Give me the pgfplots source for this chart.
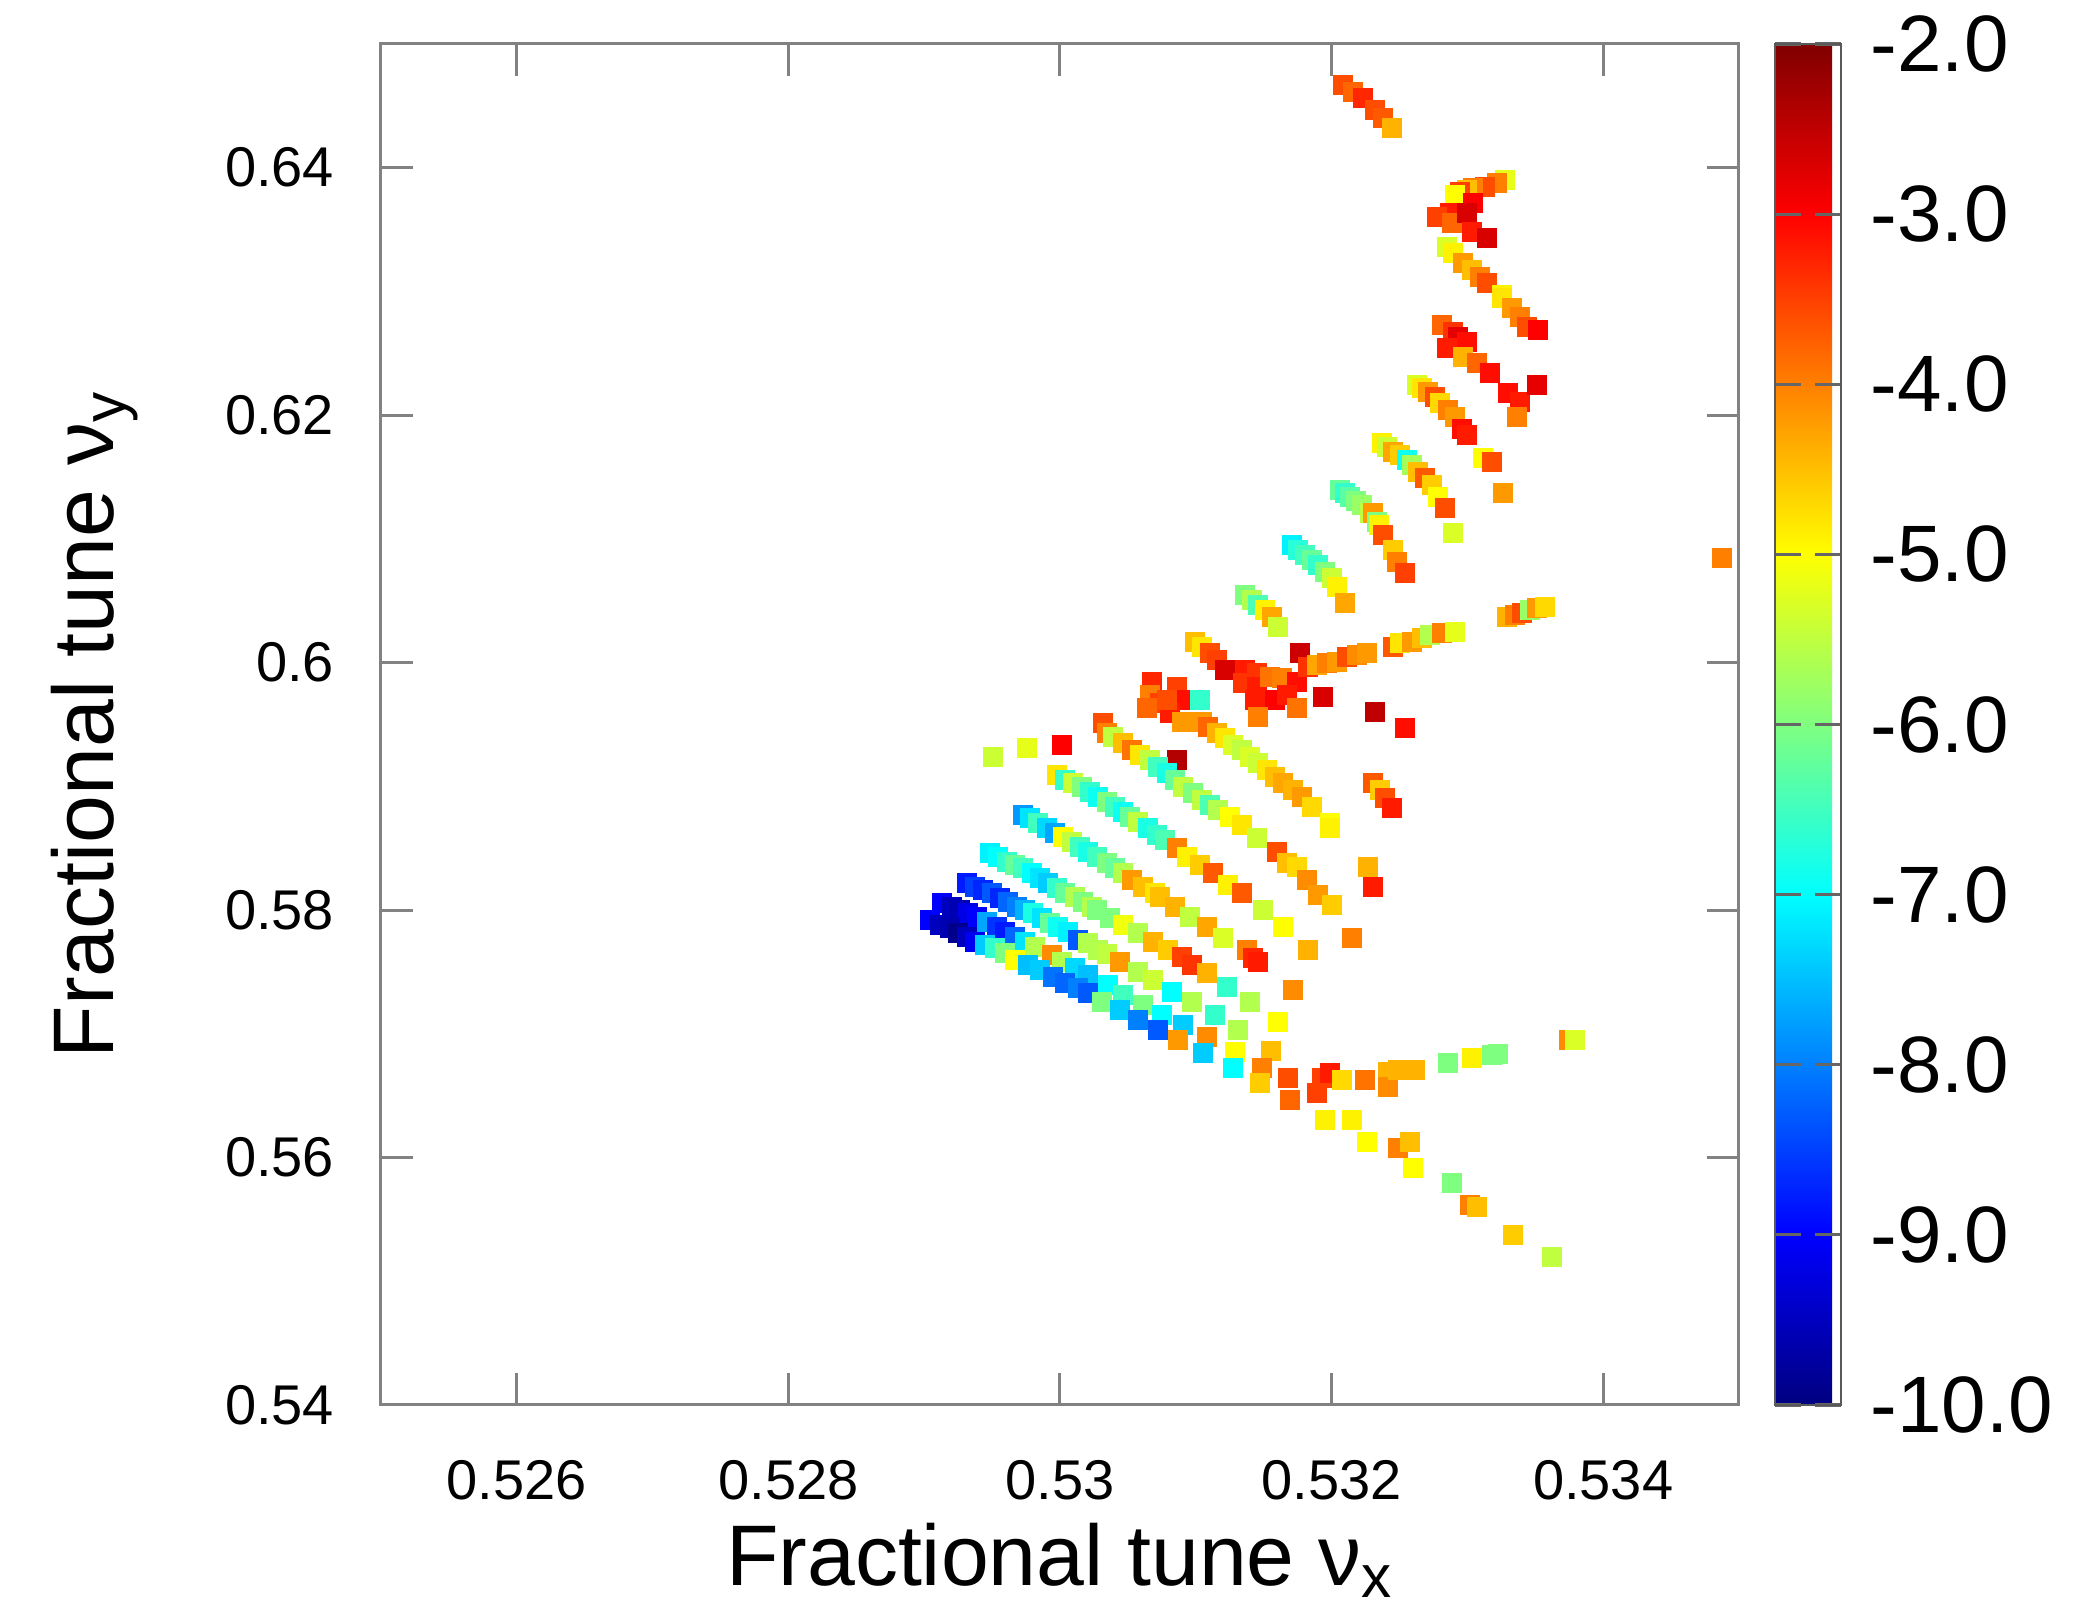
\documentclass[border=0pt]{standalone}
\usepackage{pgfplots}
\pgfplotsset{compat=1.18}
\usepackage{fontspec}
\setmainfont{Liberation Sans}
\definecolor{axisgray}{RGB}{130,130,130}
\begin{document}
\begin{tikzpicture}
\path[use as bounding box] (-95.25pt,-52pt) rectangle (424.75pt,351.25pt);
\begin{axis}[
  at={(0,0)}, anchor=south west,
  scale only axis, width=339.5pt, height=340.25pt,
  xmin=0.525, xmax=0.535, ymin=0.54, ymax=0.65,
  xtick={0.526,0.528,0.530,0.532,0.534},
  xticklabels={0.526,0.528,0.53,0.532,0.534},
  ytick={0.54,0.56,0.58,0.60,0.62,0.64},
  yticklabels={0.54,0.56,0.58,0.6,0.62,0.64},
  tick align=inside, major tick length=8pt,
  axis line style={draw=axisgray, line width=0.75pt},
  every tick/.style={draw=axisgray, line width=0.75pt},
  tick label style={font=\fontsize{14}{16}\selectfont},
  xticklabel style={yshift=-10.3pt},
  yticklabel style={xshift=-8.2pt},
  xlabel={Fractional tune ν\textsubscript{x}},
  ylabel={Fractional tune ν\textsubscript{y}},
  xlabel style={at={(axis description cs:0.5,-0.1323)}, anchor=base, font=\fontsize{21.5}{24}\selectfont},
  ylabel style={at={(axis description cs:-0.1973,0.5)}, anchor=base, font=\fontsize{21.5}{24}\selectfont},
  colormap/jet,
  point meta min=-10, point meta max=-2,
  colorbar,
  colorbar style={
    at={(parent axis.north east)}, anchor=north west, xshift=0.5pt,
    scale only axis, width=16.5pt, height=340.25pt,
    ytick={-10,-9,-8,-7,-6,-5,-4,-3,-2},
    yticklabels={-10.0,-9.0,-8.0,-7.0,-6.0,-5.0,-4.0,-3.0,-2.0},
    ytick pos=both, yticklabel pos=right,
    tick align=inside, major tick length=6.5pt,
    axis line style={draw=black!65, line width=0.6pt},
    every tick/.style={draw=black!60, line width=0.8pt},
    yticklabel style={font=\fontsize{20}{22}\selectfont, xshift=3.9pt},
  },
]
\addplot[scatter, only marks, mark=square*, mark size=2.3pt,
  scatter src=explicit,
  scatter/use mapped color={draw=mapped color, fill=mapped color}]
  table[x=x, y=y, meta=c] {
x y c
0.532084 0.64669 -3.6
0.532158 0.64612 -3.8
0.532232 0.64564 -3.3
0.532320 0.64467 -3.6
0.532379 0.64402 -3.7
0.532445 0.64321 -4.4
0.533277 0.63901 -5.2
0.533216 0.63874 -4.0
0.533130 0.63847 -3.6
0.533043 0.63834 -4.0
0.532995 0.63820 -4.5
0.532946 0.63806 -3.5
0.532909 0.63780 -5.0
0.533043 0.63713 -3.0
0.532872 0.63632 -3.2
0.532774 0.63604 -3.5
0.532890 0.63553 -3.8
0.532995 0.63632 -2.7
0.533031 0.63483 -3.2
0.533142 0.63430 -2.7
0.532847 0.63362 -5.3
0.532896 0.63308 -4.9
0.532970 0.63228 -4.2
0.533031 0.63174 -4.5
0.533093 0.63119 -4.0
0.533142 0.63066 -3.6
0.533252 0.62971 -4.9
0.533252 0.62945 -4.8
0.533326 0.62864 -4.2
0.533387 0.62796 -4.0
0.533436 0.62715 -3.6
0.533522 0.62689 -3.0
0.532810 0.62729 -3.8
0.532896 0.62675 -3.4
0.532933 0.62634 -2.8
0.532995 0.62594 -3.1
0.532848 0.62541 -3.2
0.532970 0.62473 -4.4
0.533068 0.62419 -3.8
0.533166 0.62339 -3.1
0.533301 0.62177 -3.1
0.533387 0.62109 -3.2
0.533510 0.62244 -2.8
0.533362 0.61988 -4.0
0.532626 0.62244 -5.3
0.532663 0.62217 -4.8
0.532712 0.62190 -4.2
0.532761 0.62150 -3.6
0.532798 0.62096 -4.7
0.532859 0.62042 -4.0
0.532909 0.61988 -4.2
0.532960 0.61890 -3.1
0.532995 0.61840 -3.2
0.533117 0.61652 -5.0
0.533179 0.61624 -3.6
0.533265 0.61369 -4.2
0.532369 0.61773 -4.9
0.532405 0.61746 -5.4
0.532454 0.61705 -4.3
0.532504 0.61678 -4.6
0.532553 0.61638 -6.9
0.532590 0.61597 -5.7
0.532639 0.61543 -4.5
0.532688 0.61490 -3.7
0.532737 0.61436 -4.6
0.532786 0.61341 -5.0
0.532835 0.61247 -3.6
0.532896 0.61045 -5.3
0.532062 0.61395 -6.2
0.532100 0.61370 -6.6
0.532136 0.61341 -6.3
0.532180 0.61310 -6.0
0.532222 0.61274 -5.8
0.532283 0.61207 -5.5
0.532307 0.61207 -4.2
0.532332 0.61139 -6.0
0.532350 0.61110 -4.9
0.532381 0.61032 -3.6
0.532454 0.60910 -4.6
0.532479 0.60816 -4.0
0.532541 0.60722 -3.5
0.531706 0.60951 -7.1
0.531755 0.60911 -6.7
0.531804 0.60870 -6.5
0.531853 0.60830 -6.2
0.531902 0.60789 -6.6
0.531951 0.60735 -6.0
0.532000 0.60681 -5.4
0.532037 0.60614 -4.9
0.532098 0.60480 -4.3
0.531362 0.60547 -6.0
0.531412 0.60506 -5.6
0.531460 0.60466 -6.4
0.531510 0.60426 -4.9
0.531559 0.60372 -4.3
0.531608 0.60291 -5.4
0.530994 0.60169 -4.5
0.531043 0.60129 -4.8
0.531105 0.60075 -3.6
0.531154 0.60021 -3.5
0.531215 0.59941 -2.7
0.530675 0.59846 -3.3
0.530663 0.59739 -4.0
0.530736 0.59671 -3.5
0.530859 0.59806 -3.5
0.530920 0.59698 -3.1
0.530810 0.59591 -3.2
0.530896 0.59523 -4.2
0.531031 0.59698 -6.6
0.530638 0.59631 -3.8
0.530786 0.59698 -3.6
0.531362 0.59941 -3.2
0.531448 0.59914 -3.4
0.531350 0.59833 -3.4
0.531448 0.59806 -3.2
0.531546 0.59886 -3.9
0.531633 0.59873 -4.0
0.531743 0.59846 -3.1
0.531436 0.59698 -3.2
0.531583 0.59698 -3.0
0.531669 0.59739 -3.2
0.531460 0.59563 -4.0
0.531767 0.60075 -2.6
0.531743 0.59631 -3.9
0.531939 0.59725 -2.7
0.532320 0.59604 -2.5
0.531828 0.59967 -3.4
0.531890 0.59981 -4.3
0.531964 0.59995 -4.0
0.532037 0.60008 -4.2
0.532111 0.60048 -3.6
0.532185 0.60062 -4.1
0.532258 0.60076 -4.2
0.532454 0.60129 -3.7
0.532504 0.60156 -4.8
0.532590 0.60169 -4.2
0.532663 0.60197 -4.5
0.532725 0.60224 -5.6
0.532810 0.60237 -4.0
0.532909 0.60250 -5.2
0.533289 0.60372 -4.4
0.533350 0.60385 -4.0
0.533400 0.60399 -3.6
0.533461 0.60426 -5.8
0.533510 0.60439 -4.2
0.533571 0.60453 -4.7
0.532541 0.59469 -3.1
0.532307 0.59025 -3.7
0.532356 0.58971 -4.6
0.532393 0.58904 -3.6
0.532442 0.58822 -3.2
0.530859 0.59213 -2.4
0.532270 0.58351 -4.4
0.532307 0.58189 -3.2
0.529509 0.59240 -5.4
0.529755 0.59308 -5.2
0.530012 0.59335 -3.0
0.534873 0.60843 -4.0
0.531043 0.59523 -4.2
0.531092 0.59483 -3.8
0.531154 0.59429 -4.4
0.531215 0.59389 -4.8
0.531276 0.59335 -5.3
0.531338 0.59294 -5.5
0.531399 0.59240 -5.3
0.531460 0.59187 -5.4
0.531522 0.59133 -4.8
0.531583 0.59078 -4.5
0.531644 0.59025 -4.3
0.531718 0.58971 -4.4
0.531780 0.58917 -4.2
0.531853 0.58836 -4.7
0.531988 0.58702 -5.0
0.531988 0.58661 -4.9
0.530319 0.59510 -3.6
0.530344 0.59429 -4.0
0.530393 0.59402 -5.5
0.530466 0.59348 -4.5
0.530528 0.59294 -3.9
0.530589 0.59254 -4.8
0.530663 0.59213 -5.5
0.530724 0.59159 -6.5
0.530786 0.59106 -6.8
0.530847 0.59051 -6.2
0.530908 0.58998 -5.5
0.530982 0.58944 -6.0
0.531043 0.58890 -5.5
0.531105 0.58850 -6.4
0.531166 0.58810 -5.6
0.531252 0.58755 -5.0
0.531338 0.58688 -4.8
0.531448 0.58581 -5.4
0.531596 0.58472 -3.6
0.531669 0.58378 -4.5
0.531743 0.58351 -4.7
0.531817 0.58243 -4.1
0.531902 0.58122 -4.2
0.532000 0.58041 -4.6
0.532148 0.57772 -4.0
0.529976 0.59092 -4.8
0.530037 0.59051 -6.6
0.530098 0.59025 -5.4
0.530160 0.58993 -6.0
0.530221 0.58957 -6.6
0.530282 0.58917 -6.9
0.530344 0.58876 -6.0
0.530405 0.58836 -6.5
0.530466 0.58796 -6.9
0.530515 0.58755 -6.2
0.530577 0.58715 -5.5
0.530650 0.58661 -6.8
0.530712 0.58607 -6.6
0.530770 0.58570 -6.4
0.530859 0.58500 -4.0
0.530933 0.58432 -4.9
0.531031 0.58365 -4.6
0.531129 0.58298 -3.7
0.531240 0.58203 -4.9
0.531338 0.58136 -3.7
0.531497 0.58001 -5.4
0.531644 0.57866 -5.0
0.531828 0.57678 -4.4
0.529730 0.58769 -7.8
0.529779 0.58742 -7.2
0.529841 0.58702 -6.5
0.529902 0.58661 -7.3
0.529963 0.58621 -7.7
0.530024 0.58594 -5.0
0.530086 0.58553 -5.5
0.530147 0.58513 -6.5
0.530208 0.58472 -6.8
0.530270 0.58432 -6.5
0.530344 0.58378 -6.0
0.530405 0.58338 -6.2
0.530466 0.58298 -5.6
0.530528 0.58243 -4.2
0.530614 0.58189 -4.5
0.530700 0.58136 -4.8
0.530736 0.58109 -4.5
0.530847 0.58028 -4.4
0.530957 0.57947 -5.5
0.531080 0.57866 -4.3
0.531203 0.57773 -5.3
0.531375 0.57678 -4.0
0.531424 0.57611 -3.3
0.531460 0.57583 -3.2
0.531718 0.57355 -4.1
0.529485 0.58459 -7.1
0.529546 0.58432 -7.0
0.529608 0.58392 -6.6
0.529669 0.58365 -6.2
0.529730 0.58338 -6.5
0.529791 0.58298 -7.0
0.529853 0.58257 -7.2
0.529914 0.58222 -7.4
0.529976 0.58176 -6.6
0.530037 0.58141 -6.2
0.530111 0.58109 -5.6
0.530172 0.58068 -6.0
0.530233 0.58028 -5.6
0.530270 0.58001 -6.0
0.530368 0.57934 -6.0
0.530466 0.57880 -5.1
0.530577 0.57813 -5.6
0.530687 0.57745 -4.4
0.530797 0.57678 -4.6
0.530896 0.57624 -3.5
0.530970 0.57557 -3.4
0.531080 0.57489 -4.4
0.531228 0.57381 -6.6
0.531399 0.57260 -5.6
0.531608 0.57098 -5.0
0.529313 0.58217 -8.8
0.529374 0.58190 -8.5
0.529435 0.58163 -8.7
0.529497 0.58136 -8.3
0.529558 0.58096 -8.7
0.529619 0.58068 -8.2
0.529681 0.58028 -8.0
0.529742 0.58001 -7.6
0.529803 0.57974 -6.8
0.529865 0.57934 -7.2
0.529926 0.57894 -6.2
0.529987 0.57866 -6.9
0.530061 0.57826 -7.1
0.530135 0.57759 -8.3
0.530208 0.57732 -5.6
0.530282 0.57678 -5.6
0.530344 0.57641 -5.5
0.530442 0.57583 -4.2
0.530577 0.57503 -5.6
0.530687 0.57435 -5.4
0.530822 0.57341 -7.0
0.530970 0.57260 -5.6
0.531142 0.57153 -6.6
0.531313 0.57031 -5.6
0.531557 0.56858 -4.5
0.529129 0.58055 -9.0
0.529202 0.58028 -9.5
0.529264 0.58001 -9.6
0.529325 0.57974 -9.2
0.529386 0.57947 -9.0
0.529460 0.57907 -7.7
0.529534 0.57866 -8.6
0.529595 0.57826 -8.8
0.529669 0.57785 -8.2
0.529742 0.57745 -7.2
0.529816 0.57705 -5.6
0.529939 0.57637 -4.1
0.530012 0.57583 -5.6
0.530111 0.57529 -7.3
0.530208 0.57476 -7.5
0.530356 0.57395 -7.0
0.530466 0.57314 -6.5
0.530614 0.57233 -6.0
0.530749 0.57152 -7.0
0.530908 0.57072 -7.4
0.531080 0.56977 -4.1
0.531289 0.56856 -5.0
0.529043 0.57920 -9.0
0.529116 0.57880 -9.5
0.529190 0.57853 -9.6
0.529251 0.57813 -9.9
0.529313 0.57785 -9.5
0.529374 0.57745 -9.1
0.529448 0.57718 -7.4
0.529521 0.57692 -6.6
0.529595 0.57651 -6.0
0.529669 0.57597 -5.0
0.529766 0.57557 -7.5
0.529853 0.57516 -7.4
0.529951 0.57462 -8.1
0.530037 0.57409 -8.2
0.530135 0.57368 -8.0
0.530208 0.57328 -8.3
0.530307 0.57260 -6.0
0.530442 0.57193 -7.4
0.530577 0.57112 -8.0
0.530724 0.57031 -8.3
0.530871 0.56950 -4.2
0.531056 0.56843 -7.4
0.531276 0.56722 -7.0
0.531485 0.56722 -4.0
0.531473 0.56600 -4.6
0.531681 0.56641 -3.6
0.531694 0.56465 -3.8
0.531927 0.56641 -3.5
0.531988 0.56681 -3.2
0.531890 0.56519 -3.5
0.532074 0.56627 -4.7
0.532246 0.56627 -3.9
0.532418 0.56694 -4.4
0.532418 0.56573 -4.1
0.532491 0.56708 -4.4
0.532614 0.56708 -4.4
0.532859 0.56762 -6.0
0.533032 0.56802 -4.9
0.533179 0.56829 -6.0
0.533225 0.56837 -6.0
0.533750 0.56950 -4.1
0.533793 0.56950 -5.3
0.531951 0.56304 -4.9
0.532148 0.56304 -4.9
0.532259 0.56128 -5.0
0.532491 0.56075 -4.0
0.532577 0.56128 -4.5
0.532602 0.55913 -5.0
0.532884 0.55792 -6.0
0.533019 0.55617 -4.0
0.533068 0.55603 -4.5
0.533338 0.55374 -4.6
0.533621 0.55199 -5.5
};
\end{axis}
\end{tikzpicture}
\end{document}
